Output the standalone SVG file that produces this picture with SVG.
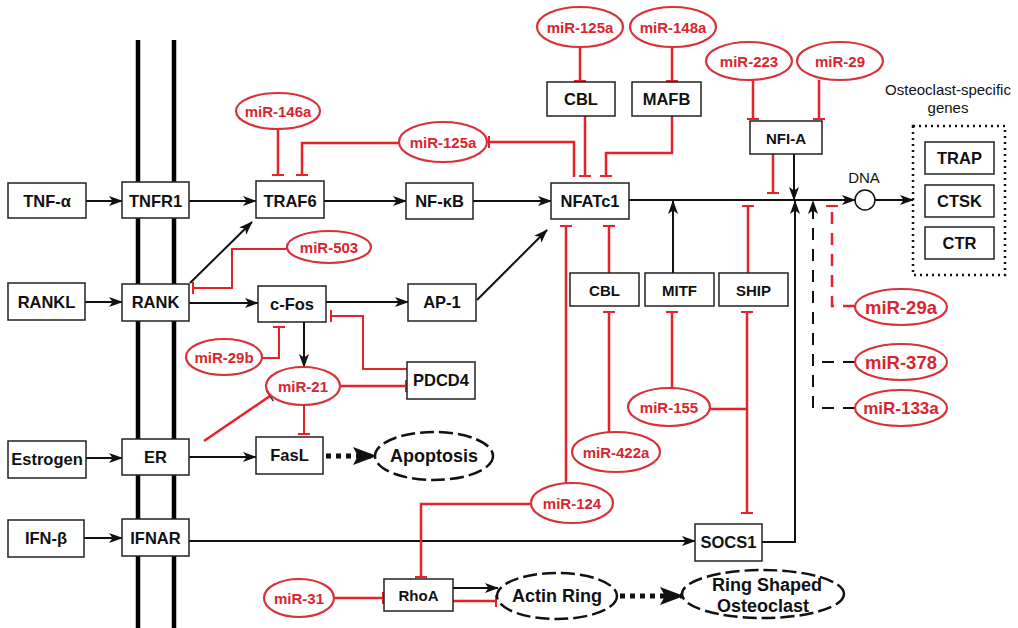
<svg xmlns="http://www.w3.org/2000/svg" width="1018" height="628" viewBox="0 0 1018 628">
<defs>
<style>
.box{fill:#fff;stroke:#222;stroke-width:1.5}
.bt{font-family:"Liberation Sans",Arial,sans-serif;font-weight:bold;font-size:16.5px;fill:#111;text-anchor:middle;dominant-baseline:central}
.mir{fill:#fff;stroke:#d8323a;stroke-width:2.2}
.mt{font-family:"Liberation Sans",Arial,sans-serif;font-weight:bold;font-size:15px;fill:#d8262e;text-anchor:middle;dominant-baseline:central}
.mtl{font-size:18.5px}
.blk{fill:none;stroke:#111;stroke-width:2}
.red{fill:none;stroke:#e8222c;stroke-width:2.5}
.dash{stroke-dasharray:12,9}
.dot{fill:none;stroke:#111;stroke-width:5;stroke-dasharray:5,5}
.oval{fill:#fff;stroke:#111;stroke-width:2.5;stroke-dasharray:14,5}
.ot{font-family:"Liberation Sans",Arial,sans-serif;font-weight:bold;font-size:18px;fill:#111;text-anchor:middle;dominant-baseline:central}
.nt{font-family:"Liberation Sans",Arial,sans-serif;font-size:15px;fill:#111;text-anchor:middle}
.mem{stroke:#000;stroke-width:4.5}
</style>
<marker id="arr" markerUnits="userSpaceOnUse" markerWidth="14" markerHeight="11" refX="13" refY="5.5" orient="auto" viewBox="0 0 14 11">
<path d="M0,0.5 L14,5.5 L0,10.5 L3.5,5.5 z" fill="#111"/>
</marker>
<marker id="bigarr" markerUnits="userSpaceOnUse" markerWidth="24" markerHeight="18" refX="22" refY="9" orient="auto" viewBox="0 0 24 18">
<path d="M0,0 L24,9 L0,18 L5,9 z" fill="#111"/>
</marker>
<marker id="tee" markerUnits="userSpaceOnUse" markerWidth="4" markerHeight="14" refX="2" refY="7" orient="auto" viewBox="0 0 4 14">
<line x1="2" y1="1" x2="2" y2="13" stroke="#e8222c" stroke-width="2"/>
</marker>
<marker id="teeb" markerUnits="userSpaceOnUse" markerWidth="4" markerHeight="14" refX="2" refY="7" orient="auto" viewBox="0 0 4 14">
<line x1="2" y1="1" x2="2" y2="13" stroke="#333" stroke-width="1.5"/>
</marker>
</defs>
<rect width="1018" height="628" fill="#fff"/>

<g id="membrane">
<line class="mem" x1="138" y1="40" x2="138" y2="628"/>
<line class="mem" x1="174" y1="40" x2="174" y2="628"/>
</g>

<g id="connectors">
<path class="blk" d="M86,201 H122" marker-end="url(#arr)"/>
<path class="blk" d="M189,201 H256" marker-end="url(#arr)"/>
<path class="blk" d="M324,201 H406" marker-end="url(#arr)"/>
<path class="blk" d="M473,201 H551" marker-end="url(#arr)"/>
<path class="blk" d="M85,302 H122" marker-end="url(#arr)"/>
<path class="blk" d="M190,283 L252,222" marker-end="url(#arr)"/>
<path class="blk" d="M189,303 H258" marker-end="url(#arr)"/>
<path class="blk" d="M326,302 H408" marker-end="url(#arr)"/>
<path class="blk" d="M477,300 L547,230" marker-end="url(#arr)"/>
<path class="blk" d="M304,322 V367" marker-end="url(#arr)"/>
<path class="blk" d="M86,458 H122" marker-end="url(#arr)"/>
<path class="blk" d="M189,457 H256" marker-end="url(#arr)"/>
<path class="blk" d="M84,538 H122" marker-end="url(#arr)"/>
<path class="blk" d="M189,541 H695" marker-end="url(#arr)"/>
<path class="blk" d="M629,200 H855" marker-end="url(#arr)"/>
<path class="blk" d="M875,200 H913" marker-end="url(#arr)"/>
<path class="blk" d="M794,154 V200" marker-end="url(#arr)"/>
<path class="blk" d="M673,273 V201" marker-end="url(#arr)"/>
<path class="blk" d="M762,542 H795 V201" marker-end="url(#arr)"/>
<path class="blk dash" d="M855,408 H813 V201" marker-end="url(#arr)"/>
<path class="blk dash" d="M855,362 H813"/>
<path class="blk" d="M453,588 H498" marker-end="url(#arr)"/>
<path class="dot" d="M326,456 H375" marker-end="url(#bigarr)"/>
<path class="dot" d="M620,596 H682" marker-end="url(#bigarr)"/>
<path class="red" d="M278,129 V175" marker-end="url(#tee)"/>
<path class="red" d="M399,143 H302 V175" marker-end="url(#tee)"/>
<path class="red" d="M574,177 V142 H489" marker-end="url(#tee)"/>
<path class="red" d="M585,116 V176" marker-end="url(#tee)"/>
<path class="red" d="M672,116 V153 H606 V176" marker-end="url(#tee)"/>
<path class="red" d="M580,47 V81" marker-end="url(#tee)"/>
<path class="red" d="M672,47 V81" marker-end="url(#tee)"/>
<path class="red" d="M753,80 V119" marker-end="url(#tee)"/>
<path class="red" d="M819,80 V119" marker-end="url(#tee)"/>
<path class="red" d="M773,154 V193" marker-end="url(#tee)"/>
<path class="red" d="M748,273 V206" marker-end="url(#tee)"/>
<path class="red" d="M609,273 V226" marker-end="url(#tee)"/>
<path class="red" d="M566,483 V226" marker-end="url(#tee)"/>
<path class="red" d="M609,433 V312" marker-end="url(#tee)"/>
<path class="red" d="M672,388 V312" marker-end="url(#tee)"/>
<path class="red" d="M710,409 H747"/>
<path class="red" d="M747,409 V312" marker-end="url(#tee)"/>
<path class="red" d="M747,409 V513" marker-end="url(#tee)"/>
<path class="red dash" d="M855,306 H832 V206" marker-end="url(#tee)"/>
<path class="red" style="stroke-width:2" d="M287,249 H232 V288 H193" marker-end="url(#tee)"/>
<path class="red" style="stroke-width:2" d="M262,358 H279 V327" marker-end="url(#tee)"/>
<path class="red" style="stroke-width:2" d="M407,369 H363 V316 H331" marker-end="url(#tee)"/>
<path class="red" d="M340,386 H406" marker-end="url(#tee)"/>
<path class="red" style="stroke-width:2" d="M304,405 V434" marker-end="url(#tee)"/>
<path class="red" d="M204,441 L270,396" marker-end="url(#teeb)"/>
<path class="red" d="M531,504 H421 V577" marker-end="url(#tee)"/>
<path class="red" d="M334,598 H383" marker-end="url(#tee)"/>
<path class="red" d="M453,601 H496" marker-end="url(#tee)"/>
</g>

<g id="n-tnfa"><rect class="box" x="8" y="183" width="78" height="35"/><text class="bt" x="47" y="201">TNF-α</text></g>
<g id="n-tnfr1"><rect class="box" x="122" y="182" width="67" height="36"/><text class="bt" x="155.5" y="201">TNFR1</text></g>
<g id="n-traf6"><rect class="box" x="256" y="181" width="68" height="37"/><text class="bt" x="290" y="201">TRAF6</text></g>
<g id="n-nfkb"><rect class="box" x="406" y="183" width="67" height="36"/><text class="bt" x="439.5" y="201">NF-κB</text></g>
<g id="n-nfatc1"><rect class="box" x="551" y="183" width="78" height="36"/><text class="bt" x="590" y="201">NFATc1</text></g>
<g id="n-cbl1"><rect class="box" x="547" y="82" width="68" height="34"/><text class="bt" x="581" y="99">CBL</text></g>
<g id="n-mafb"><rect class="box" x="632" y="82" width="69" height="34"/><text class="bt" x="666.5" y="99">MAFB</text></g>
<g id="n-nfia"><rect class="box" x="750" y="121" width="72" height="33"/><text class="bt" x="786" y="138" style="font-size:15px">NFI-A</text></g>
<g id="n-rankl"><rect class="box" x="8" y="283" width="77" height="37"/><text class="bt" x="46.5" y="302">RANKL</text></g>
<g id="n-rank"><rect class="box" x="122" y="284" width="67" height="37"/><text class="bt" x="155.5" y="302">RANK</text></g>
<g id="n-cfos"><rect class="box" x="258" y="286" width="68" height="36"/><text class="bt" x="292" y="304">c-Fos</text></g>
<g id="n-ap1"><rect class="box" x="408" y="284" width="68" height="37"/><text class="bt" x="442" y="302">AP-1</text></g>
<g id="n-pdcd4"><rect class="box" x="407" y="362" width="68" height="37"/><text class="bt" x="441" y="380">PDCD4</text></g>
<g id="n-cbl2"><rect class="box" x="570" y="273" width="69" height="33"/><text class="bt" x="604.5" y="290" style="font-size:15px">CBL</text></g>
<g id="n-mitf"><rect class="box" x="645" y="273" width="69" height="33"/><text class="bt" x="679.5" y="290" style="font-size:15px">MITF</text></g>
<g id="n-ship"><rect class="box" x="719" y="273" width="69" height="33"/><text class="bt" x="753.5" y="290" style="font-size:15px">SHIP</text></g>
<g id="n-estrogen"><rect class="box" x="8" y="441" width="78" height="37"/><text class="bt" x="47" y="459">Estrogen</text></g>
<g id="n-er"><rect class="box" x="122" y="439" width="67" height="36"/><text class="bt" x="155.5" y="457">ER</text></g>
<g id="n-fasl"><rect class="box" x="256" y="437" width="67" height="37"/><text class="bt" x="289.5" y="455">FasL</text></g>
<g id="n-ifnb"><rect class="box" x="8" y="520" width="76" height="37"/><text class="bt" x="46" y="538">IFN-β</text></g>
<g id="n-ifnar"><rect class="box" x="122" y="519" width="67" height="37"/><text class="bt" x="155.5" y="538">IFNAR</text></g>
<g id="n-socs1"><rect class="box" x="695" y="524" width="67" height="37"/><text class="bt" x="728.5" y="542">SOCS1</text></g>
<g id="n-rhoa"><rect class="box" x="384" y="579" width="69" height="32"/><text class="bt" x="418.5" y="595" style="font-size:15px">RhoA</text></g>

<g id="n-genes">
<rect x="913" y="126" width="92" height="149" fill="none" stroke="#111" stroke-width="2.5" stroke-dasharray="2,4"/>
<text class="nt" x="948" y="95">Osteoclast-specific</text>
<text class="nt" x="948" y="113">genes</text>
</g>
<g id="n-trap"><rect class="box" x="925" y="142" width="69" height="32"/><text class="bt" x="959.5" y="158">TRAP</text></g>
<g id="n-ctsk"><rect class="box" x="925" y="185" width="69" height="32"/><text class="bt" x="959.5" y="201">CTSK</text></g>
<g id="n-ctr"><rect class="box" x="925" y="227" width="69" height="32"/><text class="bt" x="959.5" y="243">CTR</text></g>
<g id="n-dna"><circle cx="865" cy="200" r="10" fill="#fff" stroke="#111" stroke-width="1.5"/><text class="nt" x="864" y="183">DNA</text></g>

<g id="n-apoptosis"><ellipse class="oval" cx="434" cy="456" rx="59" ry="24"/><text class="ot" x="434" y="456">Apoptosis</text></g>
<g id="n-actin"><ellipse class="oval" cx="557" cy="596" rx="60" ry="23"/><text class="ot" x="557" y="596">Actin Ring</text></g>
<g id="n-ringosteo"><ellipse class="oval" cx="763" cy="594" rx="81" ry="24"/><text class="ot" x="767" y="585">Ring Shaped</text><text class="ot" x="763" y="606">Osteoclast</text></g>

<g id="m-125a-top"><ellipse class="mir" cx="580" cy="27" rx="43" ry="20"/><text class="mt" x="580" y="27">miR-125a</text></g>
<g id="m-148a"><ellipse class="mir" cx="673" cy="27" rx="43" ry="20"/><text class="mt" x="673" y="27">miR-148a</text></g>
<g id="m-223"><ellipse class="mir" cx="749" cy="61" rx="43" ry="19"/><text class="mt" x="749" y="61">miR-223</text></g>
<g id="m-29"><ellipse class="mir" cx="840" cy="61" rx="43" ry="19"/><text class="mt" x="840" y="61">miR-29</text></g>
<g id="m-146a"><ellipse class="mir" cx="278" cy="111" rx="42" ry="18"/><text class="mt" x="278" y="111">miR-146a</text></g>
<g id="m-125a-mid"><ellipse class="mir" cx="443" cy="142" rx="44" ry="20"/><text class="mt" x="443" y="142">miR-125a</text></g>
<g id="m-503"><ellipse class="mir" cx="329" cy="247" rx="42" ry="16"/><text class="mt" x="329" y="247">miR-503</text></g>
<g id="m-29b"><ellipse class="mir" cx="224" cy="357" rx="38" ry="18"/><text class="mt" x="224" y="357">miR-29b</text></g>
<g id="m-21"><ellipse class="mir" cx="303" cy="386" rx="37" ry="19"/><text class="mt" x="303" y="386">miR-21</text></g>
<g id="m-155"><ellipse class="mir" cx="669" cy="407" rx="41" ry="19"/><text class="mt" x="669" y="407">miR-155</text></g>
<g id="m-422a"><ellipse class="mir" cx="616" cy="452" rx="44" ry="20"/><text class="mt" x="616" y="452">miR-422a</text></g>
<g id="m-124"><ellipse class="mir" cx="572" cy="503" rx="41" ry="20"/><text class="mt" x="572" y="503">miR-124</text></g>
<g id="m-31"><ellipse class="mir" cx="299" cy="598" rx="35" ry="19"/><text class="mt" x="299" y="598">miR-31</text></g>
<g id="m-29a"><ellipse class="mir" cx="901" cy="307" rx="46" ry="18"/><text class="mt mtl" x="901" y="307">miR-29a</text></g>
<g id="m-378"><ellipse class="mir" cx="901" cy="362" rx="46" ry="18"/><text class="mt mtl" x="901" y="362">miR-378</text></g>
<g id="m-133a"><ellipse class="mir" cx="901" cy="408" rx="46" ry="18"/><text class="mt" x="901" y="408" style="font-size:17px">miR-133a</text></g>
</svg>
